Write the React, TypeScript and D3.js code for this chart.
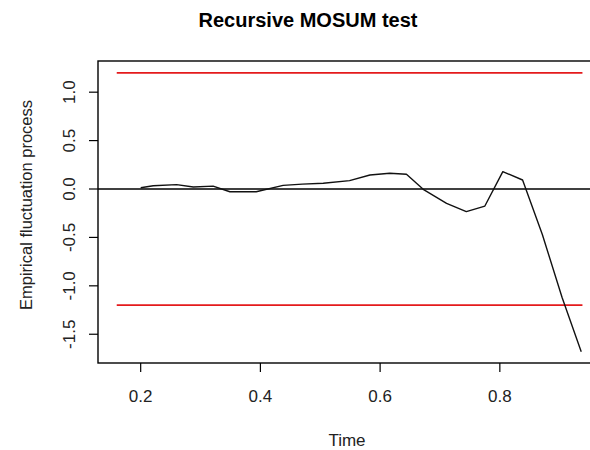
import React from "react";
import * as d3 from "d3";

const timeVals = [0.2, 0.221, 0.26, 0.288, 0.321, 0.349, 0.393, 0.438, 0.47, 0.505, 0.549, 0.583, 0.616, 0.644, 0.672, 0.711, 0.744, 0.775, 0.805, 0.838, 0.871, 0.904, 0.936];
const fluctVals = [0.013, 0.034, 0.045, 0.02, 0.03, -0.028, -0.028, 0.038, 0.05, 0.06, 0.086, 0.145, 0.162, 0.152, -0.003, -0.148, -0.234, -0.176, 0.179, 0.093, -0.47, -1.12, -1.68];
const boundaryTime = [0.16, 0.938];
const boundaryLevel = 1.2;
const xTicks = [0.2, 0.4, 0.6, 0.8];
const yTicks = [-1.5, -1.0, -0.5, 0.0, 0.5, 1.0];
const xDomain = [0.1287, 0.969];
const yDomain = [-1.797, 1.322];

const W = 590;
const H = 450;
const L = 98, R = 601, T = 61, B = 363;
const FONT = "Liberation Sans, Arial, sans-serif";

export default function App() {
  const x = d3.scaleLinear().domain(xDomain).range([L, R]);
  const y = d3.scaleLinear().domain(yDomain).range([B, T]);
  const line = d3.line<number>().x((_, i) => x(timeVals[i])).y((d) => y(d));
  return (
    <svg width={W} height={H} style={{ position: "absolute", left: 0, top: 0, background: "#fff" }}>
      <rect x={0} y={0} width={W} height={H} fill="#fff" />
      <text x={308} y={27} textAnchor="middle" fontFamily={FONT} fontWeight="bold" fontSize={20} fill="#000">
        Recursive MOSUM test
      </text>
      {[boundaryLevel, -boundaryLevel].map((b, i) => (
        <line key={i} x1={x(boundaryTime[0])} x2={x(boundaryTime[1])} y1={y(b)} y2={y(b)} stroke="#e41a1c" strokeWidth={1.8} />
      ))}
      <line x1={L} x2={R} y1={y(0)} y2={y(0)} stroke="#000" strokeWidth={1.4} />
      <path d={line(fluctVals) || ""} fill="none" stroke="#111" strokeWidth={1.4} strokeLinejoin="round" />
      <rect x={L} y={T} width={R - L} height={B - T} fill="none" stroke="#000" strokeWidth={1.4} />
      {xTicks.map((t) => (
        <g key={t}>
          <line x1={x(t)} x2={x(t)} y1={B} y2={B + 9} stroke="#000" strokeWidth={1.2} />
          <text x={x(t)} y={402} textAnchor="middle" fontFamily={FONT} fontSize={17} fill="#222">
            {t.toFixed(1)}
          </text>
        </g>
      ))}
      <text x={347} y={446} textAnchor="middle" fontFamily={FONT} fontSize={17} fill="#222">
        Time
      </text>
      {yTicks.map((t) => (
        <g key={t}>
          <line x1={L - 9} x2={L} y1={y(t)} y2={y(t)} stroke="#000" strokeWidth={1.2} />
          <text
            transform={`translate(75,${y(t)}) rotate(-90)`}
            textAnchor="middle"
            fontFamily={FONT}
            fontSize={17}
            fill="#222"
          >
            {t.toFixed(1)}
          </text>
        </g>
      ))}
      <text
        transform={`translate(32,${205}) rotate(-90)`}
        textAnchor="middle"
        fontFamily={FONT}
        fontSize={16.5}
        fill="#222"
      >
        Empirical fluctuation process
      </text>
    </svg>
  );
}
